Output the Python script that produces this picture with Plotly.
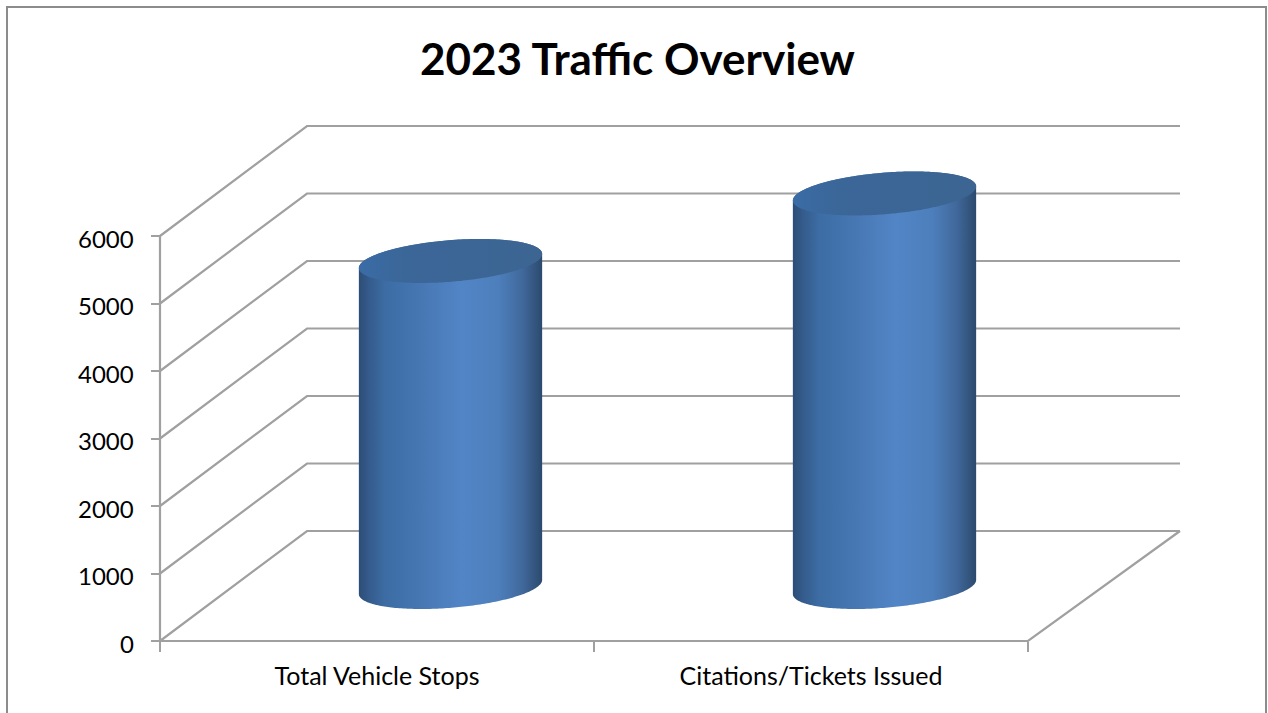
import numpy as np
import plotly.graph_objects as go

# ---- data ----
categories = ["Total Vehicle Stops", "Citations/Tickets Issued"]
values = [4830, 5830]
y_ticks = [0, 1000, 2000, 3000, 4000, 5000, 6000]
title_text = "2023 Traffic Overview"

# ---- figure geometry ----
W, H = 1268, 713
L, R, T, B = 160, 1180, 126, 641
PAD = 6
PX_PER_UNIT = 0.0675
CAT_PX = 434.0
X0 = -0.5
X1 = X0 + (R - L) / CAT_PX
Y1 = (B - T) / PX_PER_UNIT
DEPTH_X = 147 / CAT_PX
DEPTH_Y = 110 / PX_PER_UNIT
PW, PH = R - L + 2 * PAD, B - T + 2 * PAD
GRID = "#a0a0a0"
FONT = "Lato, Carlito, Calibri, sans-serif"
BODY_SCALE = [[0, "#2d4d75"], [0.05, "#345a8a"], [0.14, "#3c6ca3"], [0.35, "#4878b4"], [0.56, "#5285c6"],
              [0.76, "#4d7fbc"], [0.89, "#41699c"], [1, "#2c4a6e"]]
TOP_SCALE = [[0, "#3a6ca6"], [0.25, "#3b6698"], [1, "#3c6592"]]

fig = go.Figure()


def line(xs, ys, width=2.2, color=GRID):
    fig.add_trace(go.Scatter(x=xs, y=ys, mode="lines", cliponaxis=False, hoverinfo="skip",
                             showlegend=False, line=dict(color=color, width=width)))


# walls: one diagonal + one back line per gridline
for v in y_ticks:
    line([X0, X0 + DEPTH_X, X1], [v, v + DEPTH_Y, v + DEPTH_Y])
# floor front edge and right edge
line([X0, len(categories) - 0.5, X1], [0, 0, DEPTH_Y])
# value axis line
line([X0, X0], [y_ticks[0], y_ticks[-1]])

# cylinders computed from values through the axes' scales
RX = 0.2
DXR = 0.2 * DEPTH_X
DYR = 0.2 * DEPTH_Y
t0 = np.arctan2(DXR, RX)


def ellipse(cx, cy, a, b, n=120):
    t = np.linspace(a, b, n)
    return cx + RX * np.cos(t) + DXR * np.sin(t), cy + DYR * np.sin(t)


for i, v in enumerate(values):
    cx = i + DEPTH_X / 2
    base = DEPTH_Y / 2 - 1 / PX_PER_UNIT
    bx, by = ellipse(cx, base, t0 + np.pi, t0 + 2 * np.pi)
    ux, uy = ellipse(cx, base + v, t0, t0 + np.pi)
    fig.add_trace(go.Scatter(x=np.r_[bx, ux], y=np.r_[by, uy], mode="none", fill="toself",
                             cliponaxis=False, hoverinfo="skip", showlegend=False,
                             fillcolor="#4473ab",
                             fillgradient=dict(type="horizontal", colorscale=BODY_SCALE)))
    ex, ey = ellipse(cx, base + v, 0, 2 * np.pi, 240)
    fig.add_trace(go.Scatter(x=ex, y=ey, mode="none", fill="toself",
                             cliponaxis=False, hoverinfo="skip", showlegend=False,
                             fillcolor="#3c6590",
                             fillgradient=dict(type="horizontal", colorscale=TOP_SCALE)))


def px(x):
    return (x - (L - PAD)) / PW


def py(y):
    return ((B + PAD) - y) / PH


# chart frame (open at the bottom), title
fig.add_shape(type="path", xref="paper", yref="paper",
              path=f"M {px(7)} {py(720)} L {px(7)} {py(7)} L {px(1266)} {py(7)} L {px(1266)} {py(720)}",
              line=dict(color="#8c8c8c", width=2), layer="below")
fig.add_annotation(text=f"<b>{title_text}</b>", xref="paper", yref="paper", x=px(637), y=py(58),
                   showarrow=False, font=dict(family=FONT, size=44, color="#000000"),
                   xanchor="center", yanchor="middle")
# value labels
for v in y_ticks:
    fig.add_annotation(text=str(v), xref="paper", yref="y", x=px(136), y=v, yshift=-2,
                       showarrow=False, xanchor="right", yanchor="middle",
                       font=dict(family=FONT, size=24, color="#000000"))

fig.update_layout(
    width=W, height=H, autosize=False,
    margin=dict(l=L - PAD, r=W - R - PAD, t=T - PAD, b=H - B - PAD, pad=0),
    paper_bgcolor="#ffffff", plot_bgcolor="rgba(0,0,0,0)",
    showlegend=False,
    font=dict(family=FONT, size=25, color="#000000"),
    xaxis=dict(range=[X0 - PAD / CAT_PX, X1 + PAD / CAT_PX], showgrid=False, zeroline=False, showline=False,
               anchor="free", position=PAD / PH,
               tickmode="array", tickvals=list(range(len(categories))), ticktext=categories,
               ticks="outside", ticklen=0, tickwidth=0, ticklabelstandoff=13,
               minor=dict(tickmode="array", tickvals=[X0, 0.5, 1.5], ticks="outside",
                          ticklen=10, tickwidth=2, tickcolor=GRID, showgrid=False)),
    yaxis=dict(range=[-PAD / PX_PER_UNIT, Y1 + PAD / PX_PER_UNIT], showgrid=False, zeroline=False, showline=False,
               anchor="free", position=PAD / PW,
               tickmode="array", tickvals=y_ticks, showticklabels=False,
               ticks="outside", ticklen=9, tickwidth=2, tickcolor=GRID),
)

fig.write_html("out.html", post_script="document.body.style.margin='0';",
               config=dict(displayModeBar=False))
